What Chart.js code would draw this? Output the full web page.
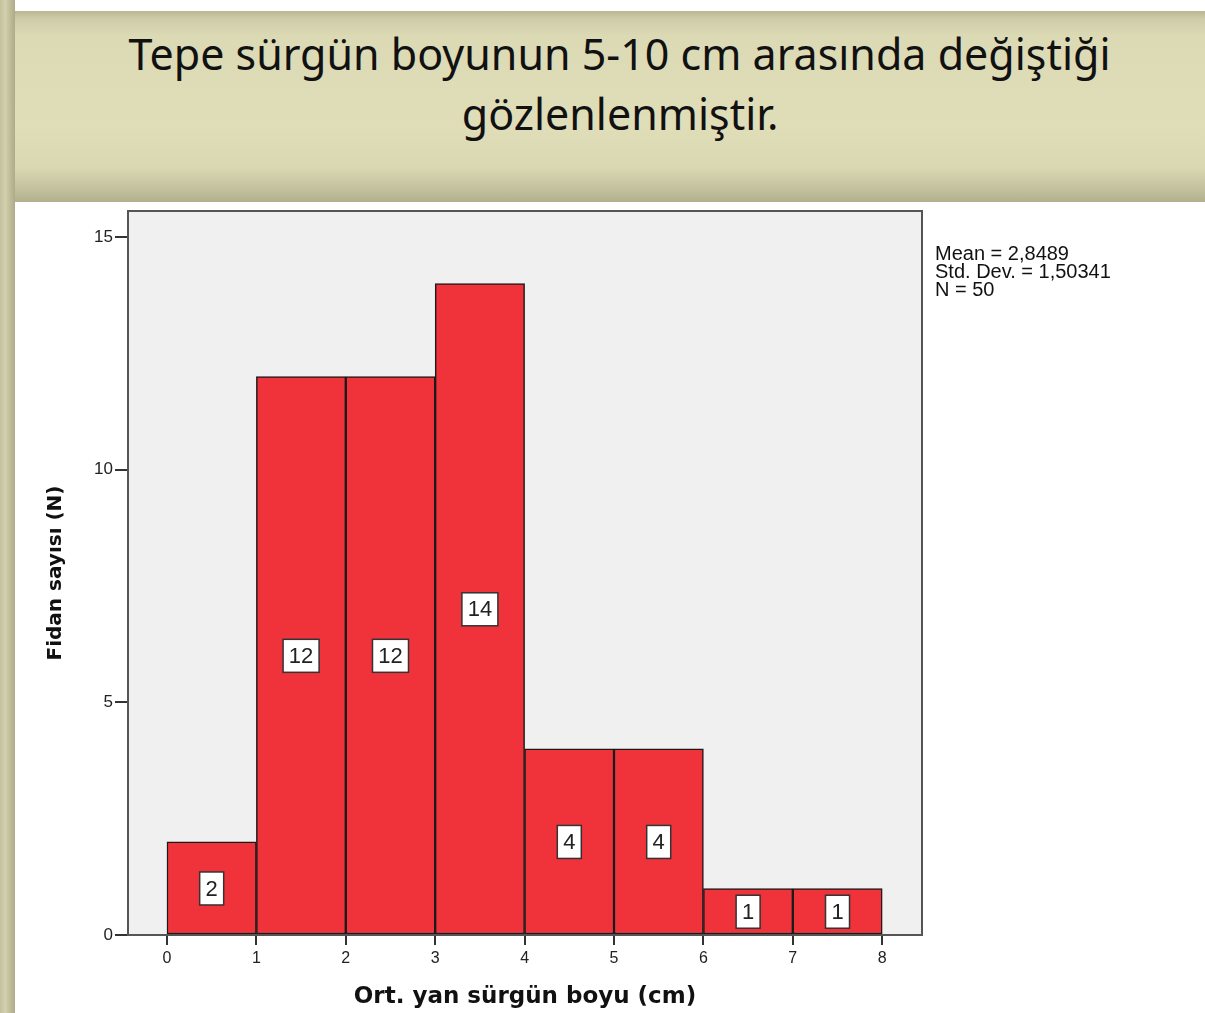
<!DOCTYPE html>
<html>
<head>
<meta charset="utf-8">
<script src="https://cdn.jsdelivr.net/npm/chart.js@4.4.0/dist/chart.umd.min.js"></script>
<style>
  html, body { margin: 0; padding: 0; background: #fff; }
  body { width: 1205px; height: 1013px; position: relative; overflow: hidden; }
  #leftStrip {
    position: absolute; left: 0; top: 0; width: 15px; height: 1013px;
    background: linear-gradient(to right, #c3c09e, #d3d0ae 35%, #bebb99 70%, #aeab8a);
  }
  #band {
    position: absolute; left: 15px; top: 11px; width: 1190px; height: 191px;
    background: linear-gradient(to bottom, #b9b694 0px, #cfccaa 8px, #dcd9b5 25px, #e0ddb9 60%, #dad7b3 82%, #c6c3a1 92%, #b3b08e 100%);
  }
  .tline {
    position: absolute; left: 0; width: 1240px; text-align: center;
    font-family: "Noto Sans", sans-serif; font-size: 44px; color: #111;
    white-space: nowrap; line-height: 50px;
  }
  .tline span { display: inline-block; transform-origin: center; }
  #chartBox { position: absolute; left: 15px; top: 202px; width: 1190px; height: 811px; }
  #stats {
    position: absolute; left: 935px; top: 244px;
    font-family: "Liberation Sans", Arial, sans-serif; font-size: 20px; line-height: 18px; color: #111;
  }
</style>
</head>
<body>
<div id="leftStrip"></div>
<div id="band"></div>
<div class="tline" id="t1" style="top:28px"><span>Tepe sürgün boyunun 5-10 cm arasında değiştiği</span></div>
<div class="tline" id="t2" style="top:88px"><span>gözlenlenmiştir.</span></div>
<div id="chartBox"><canvas id="hist" width="1190" height="811"></canvas></div>
<div id="stats">Mean = 2,8489<br>Std. Dev. = 1,50341<br>N = 50</div>
<script>
// histogram bins (lower edges, width 1) and counts
const binStarts = [0, 1, 2, 3, 4, 5, 6, 7];
const counts = [2, 12, 12, 14, 4, 4, 1, 1];
const xTicks = [0, 1, 2, 3, 4, 5, 6, 7, 8];
const yTicks = [0, 5, 10, 15];

// squeeze title line 1 to the reference width
const s1 = document.querySelector("#t1 span");
const w1 = s1.getBoundingClientRect().width;
const k = 982 / w1;
s1.style.transform = "scaleX(" + k + ")";
document.querySelector("#t2 span").style.transform = "scaleX(" + k + ")";

// frame + grey plot background
const framePlugin = {
  id: "frame",
  beforeDatasetsDraw(chart) {
    const { ctx, chartArea: a } = chart;
    ctx.save();
    ctx.fillStyle = "#f0f0f0";
    ctx.fillRect(a.left, a.top, a.right - a.left, a.bottom - a.top);
    ctx.restore();
  },
  afterDraw(chart) {
    const { ctx, chartArea: a } = chart;
    ctx.save();
    ctx.strokeStyle = "#555";
    ctx.lineWidth = 2;
    ctx.strokeRect(a.left, a.top, a.right - a.left, a.bottom - a.top);
    ctx.restore();
  }
};

// white count boxes in the middle of each bar
const boxLabels = {
  id: "boxLabels",
  afterDatasetsDraw(chart) {
    const { ctx } = chart;
    const meta = chart.getDatasetMeta(0);
    const yScale = chart.scales.y;
    ctx.save();
    ctx.font = "22px 'Liberation Sans', Arial, sans-serif";
    ctx.textAlign = "center";
    ctx.textBaseline = "middle";
    meta.data.forEach((bar, i) => {
      const txt = String(counts[i]);
      const cy = yScale.getPixelForValue(counts[i] / 2);
      const w = txt.length > 1 ? 36 : 24;
      const h = 33;
      ctx.fillStyle = "#fff";
      ctx.fillRect(bar.x - w / 2, cy - h / 2, w, h);
      ctx.strokeStyle = "#333";
      ctx.lineWidth = 1.5;
      ctx.strokeRect(bar.x - w / 2, cy - h / 2, w, h);
      ctx.fillStyle = "#222";
      ctx.fillText(txt, bar.x, cy + 1);
    });
    ctx.restore();
  }
};

new Chart(document.getElementById("hist"), {
  type: "bar",
  data: {
    datasets: [{
      data: binStarts.map((b, i) => ({ x: b + 0.5, y: counts[i] })),
      backgroundColor: "#f0323b",
      borderColor: "#1a1a1a",
      borderWidth: 1.5,
      borderSkipped: false,
      barPercentage: 1,
      categoryPercentage: 1
    }]
  },
  options: {
    responsive: false,
    devicePixelRatio: 1,
    animation: false,
    layout: { padding: { top: 9, right: 283, left: 0, bottom: 0 } },
    plugins: { legend: { display: false }, tooltip: { enabled: false } },
    scales: {
      x: {
        type: "linear",
        offset: false,
        min: -0.436,
        max: 8.445,
        afterBuildTicks: s => { s.ticks = xTicks.map(v => ({ value: v })); },
        afterFit: s => { s.height = 78; s.paddingLeft = 0; s.paddingRight = 0; },
        grid: { offset: false, drawOnChartArea: false, drawTicks: true, tickLength: 10, color: "#333", lineWidth: 2 },
        border: { display: false },
        ticks: { color: "#222", padding: 4, font: { family: "'Liberation Sans', Arial, sans-serif", size: 16 } },
        title: {
          display: true,
          text: "Ort. yan sürgün boyu (cm)",
          color: "#111",
          font: { family: "'DejaVu Sans', sans-serif", size: 23, weight: "bold" },
          padding: { top: 0, bottom: 2 }
        }
      },
      y: {
        min: 0,
        max: 15.56,
        afterBuildTicks: s => { s.ticks = yTicks.map(v => ({ value: v })); },
        afterFit: s => { s.width = 113; s.paddingTop = 0; s.paddingBottom = 0; },
        grid: { drawOnChartArea: false, drawTicks: true, tickLength: 13, color: "#333", lineWidth: 2 },
        border: { display: false },
        ticks: { color: "#222", padding: 2, font: { family: "'Liberation Sans', Arial, sans-serif", size: 17 } },
        title: {
          display: true,
          text: "Fidan sayısı (N)",
          color: "#111",
          font: { family: "'DejaVu Sans', sans-serif", size: 20, weight: "bold" },
          padding: { top: 29, bottom: 0 }
        }
      }
    }
  },
  plugins: [framePlugin, boxLabels]
});
</script>
</body>
</html>
